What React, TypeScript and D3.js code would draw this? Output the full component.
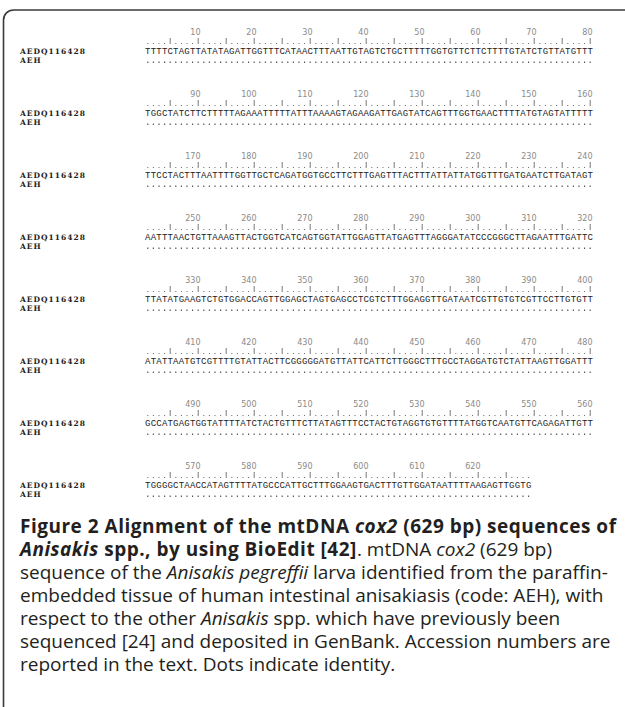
import * as d3 from "d3";

// sequence names
const names = ["AEDQ116428", "AEH"];

// reference sequence, 80 bp per block
const seqBlocks = [
  "TTTTCTAGTTATATAGATTGGTTTCATAACTTTAATTGTAGTCTGCTTTTTGGTGTTCTTCTTTTGTATCTGTTATGTTT",
  "TGGCTATCTTCTTTTTAGAAATTTTTATTTAAAAGTAGAAGATTGAGTATCAGTTTGGTGAACTTTTATGTAGTATTTTT",
  "TTCCTACTTTAATTTTGGTTGCTCAGATGGTGCCTTCTTTGAGTTTACTTTATTATTATGGTTTGATGAATCTTGATAGT",
  "AATTTAACTGTTAAAGTTACTGGTCATCAGTGGTATTGGAGTTATGAGTTTAGGGATATCCCGGGCTTAGAATTTGATTC",
  "TTATATGAAGTCTGTGGACCAGTTGGAGCTAGTGAGCCTCGTCTTTGGAGGTTGATAATCGTTGTGTCGTTCCTTGTGTT",
  "ATATTAATGTCGTTTTGTATTACTTCGGGGGATGTTATTCATTCTTGGGCTTTGCCTAGGATGTCTATTAAGTTGGATTT",
  "GCCATGAGTGGTATTTTATCTACTGTTTCTTATAGTTTCCTACTGTAGGTGTGTTTTATGGTCAATGTTCAGAGATTGTT",
  "TGGGGCTAACCATAGTTTTATGCCCATTGCTTTGGAAGTGACTTTGTTGGATAATTTTAAGAGTTGGTG",
];

// AEH differs from the reference nowhere: every site is shown as "."
const aehDiffs: { pos: number; base: string }[] = [];

// ruler labels
const tickLabels = [
  10, 20, 30, 40, 50, 60, 70, 80, 90, 100, 110, 120, 130, 140, 150, 160, 170, 180,
  190, 200, 210, 220, 230, 240, 250, 260, 270, 280, 290, 300, 310, 320, 330, 340,
  350, 360, 370, 380, 390, 400, 410, 420, 430, 440, 450, 460, 470, 480, 490, 500,
  510, 520, 530, 540, 550, 560, 570, 580, 590, 600, 610, 620,
];

const blockLen = 80;

type Seg = { t: string; b?: boolean; i?: boolean };
const captionLines: Seg[][] = [
  [
    { t: "Figure 2 Alignment of the mtDNA ", b: true },
    { t: "cox2", b: true, i: true },
    { t: " (629 bp) sequences of", b: true },
  ],
  [
    { t: "Anisakis", b: true, i: true },
    { t: " spp., by using BioEdit [42]", b: true },
    { t: ". mtDNA " },
    { t: "cox2", i: true },
    { t: " (629 bp)" },
  ],
  [
    { t: "sequence of the " },
    { t: "Anisakis pegreffii", i: true },
    { t: " larva identified from the paraffin-" },
  ],
  [{ t: "embedded tissue of human intestinal anisakiasis (code: AEH), with" }],
  [
    { t: "respect to the other " },
    { t: "Anisakis", i: true },
    { t: " spp. which have previously been" },
  ],
  [{ t: "sequenced [24] and deposited in GenBank. Accession numbers are" }],
  [{ t: "reported in the text. Dots indicate identity." }],
];

const W = 625;
const H = 707;

export default function App() {
  // char position within a block -> x of the char's left edge
  const x = d3.scaleLinear().domain([0, blockLen]).range([145, 145 + 448]);
  const cw = x(1) - x(0);
  // block index -> baseline of ruler numbers
  const y = d3.scaleLinear().domain([0, 1]).range([35, 97]);
  const capY = d3.scaleLinear().domain([0, 1]).range([533, 556]);

  const diffMap = new Map(aehDiffs.map((d) => [d.pos, d.base]));

  return (
    <svg
      width={W}
      height={H}
      style={{ position: "absolute", left: 0, top: 0, background: "#fff" }}
    >
      <path
        d={`M3.5,${H} V20 A10,10 0 0 1 13.5,10 H${W}`}
        fill="none"
        stroke="#3a3a3a"
        strokeWidth={1.6}
      />
      {seqBlocks.map((seq, bi) => {
        const y0 = y(bi);
        const start = bi * blockLen;
        const labels = tickLabels.filter((t) => t > start && t <= start + blockLen);
        return (
          <g key={bi}>
            {labels.map((t) => (
              <text
                key={t}
                x={x(t - start) - 0.5}
                y={y0}
                textAnchor="end"
                fontFamily="DejaVu Sans, sans-serif"
                fontSize={8}
                fill="#8a8a8a"
              >
                {t}
              </text>
            ))}
            {seq.split("").map((_, k) =>
              (k + 1) % 5 === 0 ? (
                <line
                  key={"r" + k}
                  x1={x(k) + cw / 2}
                  x2={x(k) + cw / 2}
                  y1={y0 + 3}
                  y2={y0 + 9}
                  stroke="#555"
                  strokeWidth={0.8}
                />
              ) : (
                <rect
                  key={"r" + k}
                  x={x(k) + cw / 2 - 0.5}
                  y={y0 + 8}
                  width={1}
                  height={1}
                  fill="#666"
                />
              )
            )}
            {names.map((n, ni) => (
              <text
                key={n}
                x={20}
                y={y0 + 19 + ni * 9}
                fontFamily="DejaVu Serif, serif"
                fontWeight="bold"
                fontSize={7.5}
                letterSpacing={1}
                fill="#222"
              >
                {n}
              </text>
            ))}
            {seq.split("").map((c, k) => (
              <text
                key={"s" + k}
                x={x(k) + cw / 2}
                y={y0 + 19}
                textAnchor="middle"
                fontFamily="Liberation Mono, monospace"
                fontSize={9}
                fill="#222"
              >
                {c}
              </text>
            ))}
            {seq.split("").map((_, k) => {
              const d = diffMap.get(start + k + 1);
              return d ? (
                <text
                  key={"a" + k}
                  x={x(k) + cw / 2}
                  y={y0 + 28}
                  textAnchor="middle"
                  fontFamily="Liberation Mono, monospace"
                  fontSize={9}
                  fill="#222"
                >
                  {d}
                </text>
              ) : (
                <rect
                  key={"a" + k}
                  x={x(k) + cw / 2 - 0.6}
                  y={y0 + 26.6}
                  width={1.2}
                  height={1.2}
                  fill="#333"
                />
              );
            })}
          </g>
        );
      })}
      {captionLines.map((line, li) => (
        <text
          key={li}
          x={20}
          y={capY(li)}
          fontFamily="Open Sans, Noto Sans, sans-serif"
          fontSize={19}
          fill="#231f20"
        >
          {line.map((s, si) => (
            <tspan
              key={si}
              fontWeight={s.b ? "bold" : "normal"}
              fontStyle={s.i ? "italic" : "normal"}
              letterSpacing={s.b ? 0.5 : 0}
            >
              {s.t}
            </tspan>
          ))}
        </text>
      ))}
    </svg>
  );
}
